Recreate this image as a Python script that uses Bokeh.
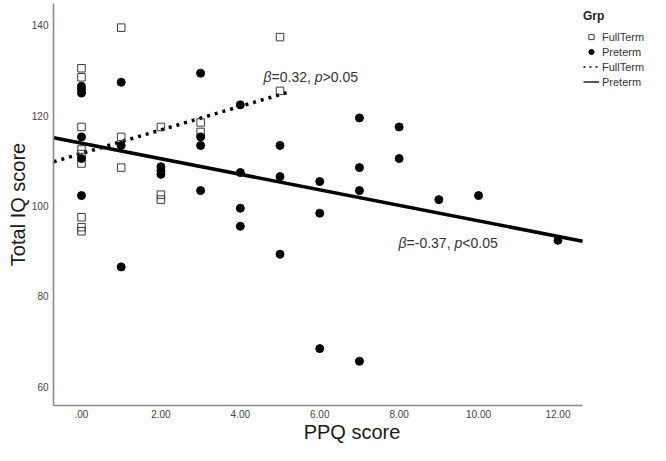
from bokeh.plotting import figure
from bokeh.models import Range1d, Legend, LegendItem, Label, FixedTicker
from bokeh.embed import file_html
from bokeh.resources import INLINE

# ---- data ----
ft_x = [0, 0, 0, 0, 0, 0, 0, 0, 0, 1, 1, 1, 2, 2, 2, 3, 3, 5, 5]
ft_y = [130.5, 128.5, 117.5, 112.5, 111.5, 109.4, 97.5, 95.3, 94.4,
        139.5, 115.3, 108.5, 117.5, 102.5, 101.4, 118.5, 116.4, 137.4, 125.5]

pt_x = [0, 0, 0, 0, 0, 0, 1, 1, 1, 2, 2, 2, 3, 3, 3, 3, 4, 4, 4, 4,
        5, 5, 5, 6, 6, 6, 7, 7, 7, 7, 8, 8, 9, 10, 12]
pt_y = [126.5, 125.8, 125.0, 115.3, 110.5, 102.3,
        127.4, 113.4, 86.5,
        108.7, 107.8, 107.0,
        129.4, 115.3, 113.4, 103.4,
        122.4, 107.4, 99.5, 95.5,
        113.4, 106.5, 89.3,
        105.4, 98.4, 68.4,
        119.5, 108.5, 103.4, 65.6,
        117.5, 110.5,
        101.4, 102.3, 92.4]

ft_fit_x = [-0.7, 5.2]
ft_fit_y = [109.8, 125.2]
pt_fit_x = [-0.7, 12.62]
pt_fit_y = [115.1, 92.2]

x_ticks = [0, 2, 4, 6, 8, 10, 12]
x_tick_labels = [".00", "2.00", "4.00", "6.00", "8.00", "10.00", "12.00"]
y_ticks = [60, 80, 100, 120, 140]

ann_ft = ["β", "=0.32, ", "p", ">0.05"]
ann_pt = ["β", "=-0.37, ", "p", "<0.05"]

FONT = "Liberation Sans"
NAN = float("nan")
X_AXIS_START = -0.705
X_AXIS_END = 12.62

p = figure(width=650, height=445, output_backend="svg", toolbar_location=None,
           x_range=Range1d(X_AXIS_START, 14.33), y_range=Range1d(55.8, 144.85),
           min_border_left=53, min_border_right=0, min_border_top=3,
           min_border_bottom=38)
p.outline_line_color = None
p.xgrid.visible = False
p.ygrid.visible = False
p.background_fill_color = "white"
p.border_fill_color = "white"

for ax in (p.xaxis[0], p.yaxis[0]):
    ax.axis_line_color = "#8a8a8a"
    ax.axis_line_width = 1.6
    ax.major_tick_line_color = None
    ax.minor_tick_line_color = None
    ax.major_tick_out = 0
    ax.major_tick_in = 0
    ax.minor_tick_out = 0
    ax.minor_tick_in = 0
    ax.major_label_text_font = FONT
    ax.major_label_text_font_size = "10px"
    ax.major_label_text_color = "#444444"

p.xaxis.ticker = FixedTicker(ticks=x_ticks)
p.xaxis.bounds = (X_AXIS_START, X_AXIS_END)
p.xaxis.major_label_overrides = {t: l for t, l in zip(x_ticks, x_tick_labels)}
p.xaxis.major_label_standoff = 4
p.xaxis.axis_label = "PPQ score"
p.xaxis.axis_label_text_font = FONT
p.xaxis.axis_label_text_font_size = "20px"
p.xaxis.axis_label_text_font_style = "normal"
p.xaxis.axis_label_text_color = "#1a1a1a"
p.xaxis.axis_label_standoff = 0

p.yaxis.ticker = FixedTicker(ticks=y_ticks)
p.yaxis.major_label_standoff = 5
p.yaxis.axis_label = "Total IQ score"
p.yaxis.axis_label_text_font = FONT
p.yaxis.axis_label_text_font_size = "20px"
p.yaxis.axis_label_text_font_style = "normal"
p.yaxis.axis_label_text_color = "#1a1a1a"
p.yaxis.axis_label_standoff = 0

# fit lines
p.line(ft_fit_x, ft_fit_y, line_color="black", line_width=3.5,
       line_dash="3 5", line_cap="butt")
p.line(pt_fit_x, pt_fit_y, line_color="black", line_width=3.5)

# points
r_ft = p.scatter(ft_x, ft_y, marker="square", size=7.5, fill_color=None,
                 line_color="#3a3a3a", line_width=1)
r_pt = p.scatter(pt_x, pt_y, marker="circle", size=8, fill_color="black",
                 line_color="black")

# legend-only renderers (nothing drawn in the plot)
r_ftl = p.line([NAN, NAN], [NAN, NAN], line_color="black", line_width=1.3,
               line_dash="2 4")
r_ptl = p.line([NAN, NAN], [NAN, NAN], line_color="black", line_width=1.3)

legend = Legend(items=[
    LegendItem(label="FullTerm", renderers=[r_ft]),
    LegendItem(label="Preterm", renderers=[r_pt]),
    LegendItem(label="FullTerm", renderers=[r_ftl]),
    LegendItem(label="Preterm", renderers=[r_ptl]),
], location=(530, 317), title="Grp")
legend.title_text_font = FONT
legend.title_text_font_size = "12px"
legend.title_text_font_style = "bold"
legend.title_text_color = "#222222"
legend.title_standoff = 7
legend.label_text_font = FONT
legend.label_text_font_size = "11px"
legend.label_text_color = "#333333"
legend.label_height = 13
legend.glyph_height = 13
legend.glyph_width = 16
legend.label_standoff = 3
legend.spacing = 2
legend.padding = 2
legend.margin = 0
legend.border_line_color = None
legend.background_fill_alpha = 0
p.add_layout(legend)


def annotate(pieces, x, y):
    widths = {"β": 8.0}
    cw = {"=": 8.2, "-": 4.7, "0": 7.8, "3": 7.8, "2": 7.8, "7": 7.8, "5": 7.8,
          ".": 3.9, ",": 3.9, " ": 3.9, ">": 8.2, "<": 8.2, "p": 7.8}
    x_off = 0.0
    for i, piece in enumerate(pieces):
        italic = i in (0, 2)
        p.add_layout(Label(x=x, y=y, x_offset=x_off, text=piece, text_font=FONT,
                           text_font_size="14px", text_color="#333333",
                           text_font_style="italic" if italic else "normal",
                           text_align="left", text_baseline="middle"))
        x_off += widths.get(piece, sum(cw.get(c, 7.8) for c in piece))


annotate(ann_ft, 4.585, 128.5)
annotate(ann_pt, 7.985, 91.8)

open("out.html", "w").write(file_html(p, INLINE))
